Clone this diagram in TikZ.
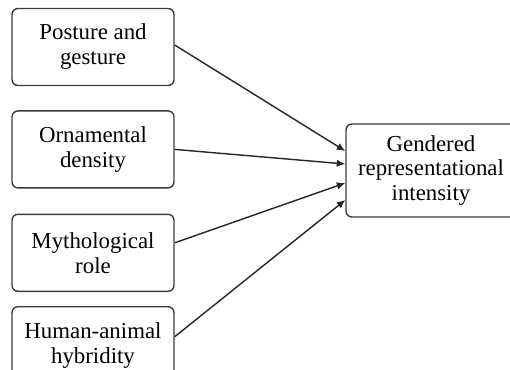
\documentclass[tikz,border=0pt]{standalone}
\usepackage{fontspec}
\setmainfont{Liberation Serif}
\usepackage{tikz}
\usetikzlibrary{arrows.meta, positioning}
\usepackage{xcolor}
\definecolor{boxgray}{RGB}{60,60,60}

\begin{document}
\begin{tikzpicture}[
  factor/.style={rectangle, draw=boxgray, line width=0.8pt, minimum width=3.24cm, minimum height=1.54cm, align=center, rounded corners=1.2mm, font=\fontsize{13}{14.2}\selectfont},
  arrow/.style={-{Latex[length=1.7mm, width=1.5mm]}, line width=0.8pt, color=black!85}
]
  \useasboundingbox (0,0) rectangle (10.2,-7.4);

  \node[factor] (posture) at (1.86,-0.94) {Posture and\\gesture};
  \node[factor, below=0.48cm of posture] (ornament) {Ornamental\\density};
  \node[factor, below=0.5cm of ornament] (myth) {Mythological\\role};
  \node[factor, below=0.28cm of myth] (hybrid) {Human-animal\\hybridity};

  \node[factor, minimum width=3.4cm, minimum height=1.86cm] (gender) at (8.62,-3.41) {Gendered\\representational\\intensity};

  \draw[arrow] ([yshift=0.04cm]posture.east) -- ([yshift=0.39cm]gender.west);
  \draw[arrow] (ornament.east) -- ([yshift=0.13cm]gender.west);
  \draw[arrow] ([yshift=0.2cm]myth.east) -- ([yshift=-0.25cm]gender.west);
  \draw[arrow] ([yshift=0.17cm]hybrid.east) -- ([yshift=-0.59cm]gender.west);

\end{tikzpicture}
\end{document}
